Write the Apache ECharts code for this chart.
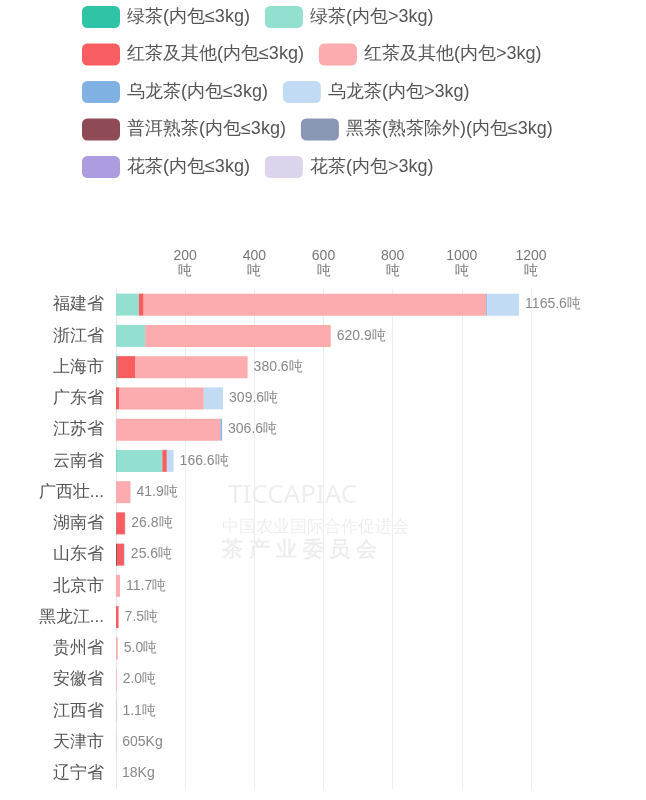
<!DOCTYPE html>
<html>
<head>
<meta charset="utf-8">
<script src="https://cdn.jsdelivr.net/npm/echarts@6/dist/echarts.min.js"></script>
<style>
  html, body { margin: 0; padding: 0; background: #fff; }
  #main { width: 646px; height: 800px; }
</style>
</head>
<body>
<div id="main"></div>
<script>
var provinces = ['福建省', '浙江省', '上海市', '广东省', '江苏省', '云南省', '广西壮族自治区', '湖南省', '山东省', '北京市', '黑龙江省', '贵州省', '安徽省', '江西省', '天津市', '辽宁省'];
var totalLabels = ['1165.6吨', '620.9吨', '380.6吨', '309.6吨', '306.6吨', '166.6吨', '41.9吨', '26.8吨', '25.6吨', '11.7吨', '7.5吨', '5.0吨', '2.0吨', '1.1吨', '605Kg', '18Kg'];
var seriesNames = ['绿茶(内包≤3kg)', '绿茶(内包>3kg)', '红茶及其他(内包≤3kg)', '红茶及其他(内包>3kg)', '乌龙茶(内包≤3kg)', '乌龙茶(内包>3kg)', '普洱熟茶(内包≤3kg)', '黑茶(熟茶除外)(内包≤3kg)', '花茶(内包≤3kg)', '花茶(内包>3kg)'];
var seriesColors = ['#2ec4a5', '#93dfd0', '#f85d61', '#fcacae', '#7fb1e3', '#c2dbf5', '#8e4a55', '#8a97b3', '#ad9ce0', '#dcd3ec'];

var greenSmall  = [0, 0, 3, 0, 0, 2, 0, 0, 0, 0, 0, 0, 0, 0, 0, 0];
var greenBig    = [66, 84, 0, 0, 0, 132, 0, 0, 0, 0, 0, 0, 0, 0, 0, 0];
var redSmall    = [14, 1, 52, 10, 0, 13, 0, 24, 20, 0, 7.5, 0, 0, 0, 0, 0];
var redBig      = [990.6, 535.9, 325.6, 244, 302, 0, 41.9, 1, 0, 11.7, 0, 5.0, 2.0, 1.1, 0.605, 0.018];
var oolongSmall = [3, 0, 0, 0, 4.6, 0, 0, 0, 0, 0, 0, 0, 0, 0, 0, 0];
var oolongBig   = [92, 0, 0, 55.6, 0, 19.6, 0, 0, 2.6, 0, 0, 0, 0, 0, 0, 0];
var puer        = [0, 0, 0, 0, 0, 0, 0, 1.8, 3, 0, 0, 0, 0, 0, 0, 0];
var darkTea     = [0, 0, 0, 0, 0, 0, 0, 0, 0, 0, 0, 0, 0, 0, 0, 0];
var flowerSmall = [0, 0, 0, 0, 0, 0, 0, 0, 0, 0, 0, 0, 0, 0, 0, 0];
var flowerBig   = [0, 0, 0, 0, 0, 0, 0, 0, 0, 0, 0, 0, 0, 0, 0, 0];

var seriesData = [greenSmall, greenBig, redSmall, redBig, oolongSmall, oolongBig, puer, darkTea, flowerSmall, flowerBig];
// draw order along the bar (puer sits at the start where present)
var stackOrder = [6, 0, 1, 2, 3, 7, 8, 9, 4, 5];

var chart = echarts.init(document.getElementById('main'));
var series = [];
stackOrder.forEach(function (k) {
	series.push({
		name: seriesNames[k],
		type: 'bar',
		stack: 'all',
		barWidth: 22,
		data: seriesData[k],
		itemStyle: { color: seriesColors[k] }
	});
});
// zero-size end piece carrying the total label
series.push({
	type: 'bar',
	stack: 'all',
	barWidth: 22,
	data: provinces.map(function () { return 0; }),
	itemStyle: { color: 'transparent' },
	label: {
		show: true,
		position: 'right',
		distance: 6,
		color: '#888',
		fontSize: 14,
		formatter: function (p) { return totalLabels[p.dataIndex]; }
	},
	silent: true
});

var legends = [];
for (var r = 0; r < 5; r++) {
	legends.push({
		left: 77,
		top: 1 + r * 37.5,
		orient: 'horizontal',
		itemWidth: 38,
		itemHeight: 22,
		itemGap: 15,
		icon: 'roundRect',
		textStyle: { fontSize: 18, color: '#555', padding: [0, 0, 0, 2] },
		data: [seriesNames[r * 2], seriesNames[r * 2 + 1]]
	});
}

chart.setOption({
	animation: false,
	legend: legends,
	graphic: [
		{ type: 'text', left: 228, top: 483, style: { text: 'TICCAPIAC', fontSize: 26, fill: 'rgba(0,0,0,0.07)', fontFamily: 'Noto Sans' } },
		{ type: 'text', left: 222, top: 519, style: { text: '中国农业国际合作促进会', fontSize: 17, fill: 'rgba(0,0,0,0.07)' } },
		{ type: 'text', left: 222, top: 540, style: { text: '茶 产 业 委 员 会', fontSize: 21, fill: 'rgba(0,0,0,0.07)', fontWeight: 'bold' } }
	],
	grid: { left: 116, right: 115, top: 289, bottom: 11 },
	xAxis: {
		type: 'value',
		position: 'top',
		min: 0,
		max: 1200,
		interval: 200,
		axisLine: { show: false },
		axisTick: { show: false },
		splitLine: { lineStyle: { color: '#eeeeee' } },
		axisLabel: {
			color: '#777',
			fontSize: 14,
			lineHeight: 15,
			margin: 10,
			formatter: function (v) { return v === 0 ? '' : v + '\n吨'; }
		}
	},
	yAxis: {
		type: 'category',
		inverse: true,
		data: provinces,
		axisLine: { lineStyle: { color: '#e6e6e6' } },
		axisTick: { show: false },
		axisLabel: {
			color: '#555',
			fontSize: 17,
			margin: 12,
			width: 67,
			overflow: 'truncate',
			ellipsis: '...'
		}
	},
	series: series
});
</script>
</body>
</html>
